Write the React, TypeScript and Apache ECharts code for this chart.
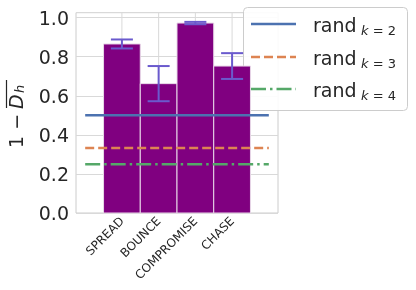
import React, { useEffect, useRef } from "react";
import * as echarts from "echarts";

const categories = ["SPREAD", "BOUNCE", "COMPROMISE", "CHASE"];
const means = [0.865, 0.662, 0.972, 0.752];
const errs = [0.023, 0.09, 0.006, 0.066];
const baselineValues = [0.5, 0.333, 0.25];
const baselineSubs = ["2", "3", "4"];
const yTicks = [0, 0.2, 0.4, 0.6, 0.8, 1.0];

const FONT = "DejaVu Sans";
const TEXT = "#262626";
const lineColors = ["#4C72B0", "#DD8452", "#55A868"];
const lineDashes: any[] = ["solid", [9, 4], [15, 4, 2.5, 4]];

export default function App() {
  const ref = useRef<HTMLDivElement>(null);
  useEffect(() => {
    if (!ref.current) return;
    const chart = echarts.init(ref.current, null, { renderer: "svg" });

    const legendTop = 7;
    const legendRows = [24, 57, 89];
    const legendEls: any[] = [
      {
        type: "rect",
        z: 3,
        shape: { x: 243.5, y: legendTop + 0.5, width: 164, height: 103, r: 4 },
        style: { fill: "rgba(255,255,255,0.9)", stroke: "#cccccc", lineWidth: 1 },
      },
    ];
    baselineValues.forEach((v, i) => {
      const y = legendRows[i];
      legendEls.push({
        type: "line",
        z: 4,
        shape: { x1: 251, y1: y, x2: 296, y2: y },
        style: { stroke: lineColors[i], lineWidth: 2.5, lineDash: lineDashes[i] === "solid" ? null : lineDashes[i] },
      });
      legendEls.push({
        type: "text",
        z: 4,
        x: 313,
        y: y + 0.5,
        style: { text: "rand", fontFamily: FONT, fontSize: 19, fill: TEXT, verticalAlign: "middle" },
      });
      legendEls.push({
        type: "text",
        z: 4,
        x: 361,
        y: y + 6.5,
        style: {
          text: `{i|k}{n| = ${baselineSubs[i]}}`,
          verticalAlign: "middle",
          rich: {
            i: { fontFamily: FONT, fontSize: 13, fontStyle: "italic", fill: TEXT },
            n: { fontFamily: FONT, fontSize: 13, fill: TEXT },
          },
        },
      });
    });

    const yTitle = {
      type: "group",
      x: 15.5,
      y: 113,
      rotation: Math.PI / 2,
      children: [
        { type: "text", x: -35, y: 0, style: { text: "1 −", fontFamily: FONT, fontSize: 19, fill: TEXT, verticalAlign: "middle" } },
        { type: "text", x: 4, y: 0, style: { text: "D", fontFamily: FONT, fontSize: 19, fontStyle: "italic", fill: TEXT, verticalAlign: "middle" } },
        { type: "text", x: 20, y: 4, style: { text: "h", fontFamily: FONT, fontSize: 13, fontStyle: "italic", fill: TEXT, verticalAlign: "middle" } },
        { type: "line", shape: { x1: 5, y1: -9, x2: 33, y2: -9 }, style: { stroke: TEXT, lineWidth: 1.2 } },
      ],
    };

    const option: any = {
      animation: false,
      grid: { left: 76, right: 138, top: 12.7, bottom: 77, show: true, borderColor: "#cccccc", borderWidth: 1, backgroundColor: "transparent" },
      xAxis: {
        type: "value",
        min: -1.25,
        max: 4.25,
        axisLine: { show: false },
        axisTick: { show: false },
        splitLine: { show: false },
        axisLabel: {
          customValues: [0, 1, 2, 3],
          rotate: 45,
          fontSize: 12,
          fontFamily: FONT,
          color: TEXT,
          margin: 6,
          formatter: (v: number) => {
            const i = Math.round(v);
            return Math.abs(v - i) < 1e-6 && i >= 0 && i < categories.length ? categories[i] : "";
          },
        },
      },
      yAxis: {
        type: "value",
        min: 0,
        max: 1.025,
        interval: 0.2,
        axisLine: { show: false },
        axisTick: { show: false },
        splitLine: { show: true, lineStyle: { color: "#d9d9d9", width: 1 } },
        axisLabel: {
          fontSize: 19,
          fontFamily: FONT,
          color: TEXT,
          margin: 7,
          showMaxLabel: false,
          formatter: (v: number) => (yTicks.some((t) => Math.abs(t - v) < 1e-6) ? v.toFixed(1) : ""),
        },
      },
      graphic: [yTitle, ...legendEls],
      series: [
        {
          type: "custom",
          name: "vgrid",
          z: 1,
          silent: true,
          data: categories.map((c, i) => [i]),
          renderItem: (params: any, api: any) => {
            const x = api.value(0);
            const a = api.coord([x, 0]);
            const b = api.coord([x, 1.025]);
            return { type: "line", shape: { x1: a[0], y1: a[1], x2: b[0], y2: b[1] }, style: { stroke: "#d9d9d9", lineWidth: 1 } };
          },
        },
        {
          type: "custom",
          name: "bars",
          z: 5,
          data: categories.map((c, i) => [i, means[i]]),
          renderItem: (params: any, api: any) => {
            const x = api.value(0);
            const y = api.value(1);
            const p0 = api.coord([x - 0.5, y]);
            const p1 = api.coord([x + 0.5, 0]);
            return {
              type: "rect",
              shape: { x: p0[0], y: p0[1], width: p1[0] - p0[0], height: p1[1] - p0[1] },
              style: { fill: "#800080", stroke: "#e8d8e8", lineWidth: 1 },
            };
          },
        },
        ...baselineValues.map((v, i) => ({
          type: "line",
          name: "rand" + baselineSubs[i],
          z: 6,
          data: [[-1, v], [4, v]],
          symbol: "none",
          lineStyle: { color: lineColors[i], width: 2.5, type: lineDashes[i] },
        })),
        {
          type: "custom",
          name: "errors",
          z: 7,
          data: categories.map((c, i) => [i, means[i] - errs[i], means[i] + errs[i]]),
          renderItem: (params: any, api: any) => {
            const x = api.value(0);
            const lo = api.coord([x, api.value(1)]);
            const hi = api.coord([x, api.value(2)]);
            const cap = 11;
            const st = { stroke: "#6A5ACD", lineWidth: 2 };
            return {
              type: "group",
              children: [
                { type: "line", shape: { x1: lo[0], y1: lo[1], x2: hi[0], y2: hi[1] }, style: st },
                { type: "line", shape: { x1: lo[0] - cap, y1: lo[1], x2: lo[0] + cap, y2: lo[1] }, style: st },
                { type: "line", shape: { x1: hi[0] - cap, y1: hi[1], x2: hi[0] + cap, y2: hi[1] }, style: st },
              ],
            };
          },
        },
      ],
    };
    chart.setOption(option);
    return () => chart.dispose();
  }, []);
  return <div ref={ref} style={{ position: "fixed", left: 0, top: 0, width: 416, height: 290 }} />;
}
